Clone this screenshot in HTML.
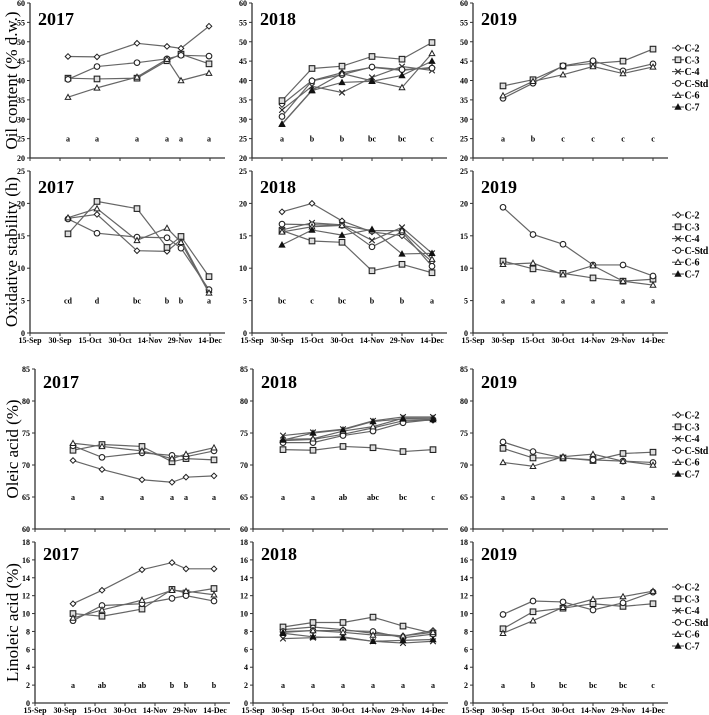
<!DOCTYPE html>
<html><head><meta charset="utf-8">
<style>
html,body{margin:0;padding:0;background:#fff;}
svg{display:block;font-family:"Liberation Serif",serif;}
.tk{font-size:8px;font-weight:bold;}
.yr{font-size:18px;font-weight:bold;}
.lt{font-size:8px;font-weight:bold;}
.lg{font-size:10px;font-weight:bold;letter-spacing:-0.3px;}
.yt{font-size:17px;}
</style></head>
<body>
<svg id="chart" width="709" height="715" viewBox="0 0 709 715"></svg>
<script>
// x positions: days after 15-Sep
const days2017 = [19, 33.5, 53.5, 68.5, 75.5, 89.5];
const days2018 = [15, 30, 45, 60, 75, 90];
const dateLabels = ["15-Sep","30-Sep","15-Oct","30-Oct","14-Nov","29-Nov","14-Dec"];
const seriesNames = ["C-2","C-3","C-4","C-Std","C-6","C-7"];

// Oil content
const oil2017_C2 = [46.2,46.1,49.6,48.8,48.3,54.0];
const oil2017_C3 = [40.6,40.4,40.6,45.1,46.8,44.3];
const oil2017_CStd = [40.3,43.6,44.6,45.6,46.5,46.3];
const oil2017_C6 = [35.7,38.1,40.9,45.5,40.0,41.9];
const oil2018_C2 = [33.8,40.0,42.0,43.4,42.6,43.4];
const oil2018_C3 = [34.8,43.1,43.7,46.2,45.5,49.8];
const oil2018_C4 = [32.4,38.5,36.9,40.8,43.6,42.6];
const oil2018_CStd = [30.7,39.9,41.5,43.5,42.8,43.2];
const oil2018_C6 = [28.8,37.5,41.8,39.9,38.2,47.0];
const oil2018_C7 = [28.7,37.4,39.5,39.8,41.3,45.0];
const oil2019_C3 = [38.6,40.2,43.7,44.4,45.0,48.1];
const oil2019_CStd = [35.4,39.3,43.8,45.1,42.5,44.3];
const oil2019_C6 = [36.1,39.8,41.5,43.6,41.8,43.5];
// Oxidative stability
const ox2017_C2 = [17.7,18.3,12.7,12.6,14.4,6.3];
const ox2017_C3 = [15.3,20.3,19.2,13.2,14.9,8.7];
const ox2017_CStd = [17.6,15.4,14.8,14.7,13.1,6.7];
const ox2017_C6 = [17.8,19.2,14.3,16.2,14.0,6.2];
const ox2018_C2 = [18.7,20.0,17.3,15.6,15.0,11.0];
const ox2018_C3 = [15.8,14.2,14.0,9.6,10.6,9.3];
const ox2018_C4 = [15.9,17.0,16.7,14.3,16.3,12.3];
const ox2018_CStd = [16.8,16.7,16.6,13.3,15.6,10.3];
const ox2018_C6 = [15.6,16.4,16.6,15.8,15.8,11.4];
const ox2018_C7 = [13.6,15.9,15.1,16.0,12.2,12.3];
const ox2019_C3 = [11.1,9.9,9.2,8.5,8.0,8.3];
const ox2019_CStd = [19.4,15.2,13.7,10.5,10.5,8.8];
const ox2019_C6 = [10.6,10.8,9.0,10.4,8.0,7.4];
// Oleic acid
const ol2017_C2 = [70.7,69.3,67.7,67.3,68.1,68.3];
const ol2017_C3 = [72.3,73.2,72.9,70.5,71.0,70.8];
const ol2017_CStd = [73.0,71.2,71.9,71.5,71.3,72.2];
const ol2017_C6 = [73.4,72.9,72.2,71.0,71.7,72.7];
const ol2018_C2 = [73.8,74.0,74.8,75.8,76.9,77.0];
const ol2018_C3 = [72.4,72.3,72.9,72.7,72.1,72.4];
const ol2018_C4 = [74.6,75.1,75.6,76.9,77.5,77.5];
const ol2018_CStd = [73.5,73.5,74.6,75.3,76.6,77.1];
const ol2018_C6 = [74.0,74.1,75.3,76.0,77.3,77.3];
const ol2018_C7 = [73.9,75.0,75.5,76.8,77.2,77.1];
const ol2019_C3 = [72.6,71.1,71.1,70.7,71.8,72.0];
const ol2019_CStd = [73.6,72.1,71.1,70.8,70.6,70.4];
const ol2019_C6 = [70.4,69.8,71.3,71.7,70.6,70.0];
// Linoleic acid
const li2017_C2 = [11.1,12.6,14.9,15.7,15.0,15.0];
const li2017_C3 = [10.0,9.7,10.5,12.7,12.3,12.8];
const li2017_CStd = [9.2,10.9,11.1,11.7,12.0,11.4];
const li2017_C6 = [9.5,10.4,11.5,12.6,12.5,12.1];
const li2018_C2 = [8.2,8.5,8.2,7.8,7.5,8.1];
const li2018_C3 = [8.5,9.0,9.0,9.6,8.6,7.8];
const li2018_C4 = [7.2,7.3,7.4,6.9,6.7,6.9];
const li2018_CStd = [8.0,8.1,8.1,8.0,7.3,7.7];
const li2018_C6 = [7.9,8.1,7.9,7.6,7.5,7.9];
const li2018_C7 = [7.8,7.4,7.3,6.9,7.0,7.1];
const li2019_C3 = [8.3,10.2,10.6,11.1,10.8,11.1];
const li2019_CStd = [9.9,11.4,11.3,10.4,11.2,12.4];
const li2019_C6 = [7.8,9.2,10.7,11.6,11.9,12.5];
// significance letters
const letOil2017 = ["a","a","a","a","a","a"];
const letOil2018 = ["a","b","b","bc","bc","c"];
const letOil2019 = ["a","b","c","c","c","c"];
const letOx2017 = ["cd","d","bc","b","b","a"];
const letOx2018 = ["bc","c","bc","b","b","a"];
const letOx2019 = ["a","a","a","a","a","a"];
const letOl2017 = ["a","a","a","a","a","a"];
const letOl2018 = ["a","a","ab","abc","bc","c"];
const letOl2019 = ["a","a","a","a","a","a"];
const letLi2017 = ["a","ab","ab","b","b","b"];
const letLi2018 = ["a","a","a","a","a","a"];
const letLi2019 = ["a","b","bc","bc","bc","c"];

const NS="http://www.w3.org/2000/svg";
const svg=document.getElementById('chart');
function mk(tag,attrs,parent){const e=document.createElementNS(NS,tag);for(const k in attrs)e.setAttribute(k,attrs[k]);(parent||svg).appendChild(e);return e;}

const rows=[
 {key:'oil',title:'Oil content (% d.w.)',yMin:20,yMax:60,step:5,top:3,bot:158,cols:[30,252,473],dates:false,letVal:25,yrOff:22,legendY:48,
  series:[[oil2017_C2,oil2017_C3,null,oil2017_CStd,oil2017_C6,null],[oil2018_C2,oil2018_C3,oil2018_C4,oil2018_CStd,oil2018_C6,oil2018_C7],[null,oil2019_C3,null,oil2019_CStd,oil2019_C6,null]],
  lets:[letOil2017,letOil2018,letOil2019]},
 {key:'ox',title:'Oxidative stability (h)',yMin:0,yMax:25,step:5,top:171,bot:333,cols:[30,252,473],dates:true,letVal:5,yrOff:22,legendY:215,
  series:[[ox2017_C2,ox2017_C3,null,ox2017_CStd,ox2017_C6,null],[ox2018_C2,ox2018_C3,ox2018_C4,ox2018_CStd,ox2018_C6,ox2018_C7],[null,ox2019_C3,null,ox2019_CStd,ox2019_C6,null]],
  lets:[letOx2017,letOx2018,letOx2019]},
 {key:'oleic',title:'Oleic acid (%)',yMin:60,yMax:85,step:5,top:369,bot:529,cols:[35,253,473],dates:false,letVal:65,yrOff:19,legendY:415,
  series:[[ol2017_C2,ol2017_C3,null,ol2017_CStd,ol2017_C6,null],[ol2018_C2,ol2018_C3,ol2018_C4,ol2018_CStd,ol2018_C6,ol2018_C7],[null,ol2019_C3,null,ol2019_CStd,ol2019_C6,null]],
  lets:[letOl2017,letOl2018,letOl2019]},
 {key:'linoleic',title:'Linoleic acid (%)',yMin:0,yMax:18,step:2,top:542,bot:703,cols:[35,253,473],dates:true,letVal:2,yrOff:18,legendY:587,
  series:[[li2017_C2,li2017_C3,null,li2017_CStd,li2017_C6,null],[li2018_C2,li2018_C3,li2018_C4,li2018_CStd,li2018_C6,li2018_C7],[null,li2019_C3,null,li2019_CStd,li2019_C6,null]],
  lets:[letLi2017,letLi2018,letLi2019]}
];
const years=['2017','2018','2019'];
const PXD=2, AXLEN=195;

function marker(g,type,x,y){
  const s=2.8;
  let e;
  if(type===0) e=mk('polygon',{points:`${x},${y-s} ${x+s},${y} ${x},${y+s} ${x-s},${y}`,fill:'#fff',stroke:'#222','stroke-width':1},g);
  else if(type===1) e=mk('rect',{x:x-s,y:y-s,width:2*s,height:2*s,fill:'#ddd',stroke:'#222','stroke-width':1.1},g);
  else if(type===2){e=mk('path',{d:`M${x-s},${y-s}L${x+s},${y+s}M${x-s},${y+s}L${x+s},${y-s}`,stroke:'#222','stroke-width':1.1,fill:'none'},g);}
  else if(type===3) e=mk('circle',{cx:x,cy:y,r:s,fill:'#fff',stroke:'#222','stroke-width':1.1},g);
  else if(type===4) e=mk('polygon',{points:`${x},${y-s} ${x+s},${y+s*0.8} ${x-s},${y+s*0.8}`,fill:'#fff',stroke:'#222','stroke-width':1},g);
  else e=mk('polygon',{points:`${x},${y-s} ${x+s},${y+s*0.8} ${x-s},${y+s*0.8}`,fill:'#111',stroke:'#111','stroke-width':1},g);
  return e;
}

rows.forEach((r,ri)=>{
  const yScale=v=>r.bot-(v-r.yMin)/(r.yMax-r.yMin)*(r.bot-r.top);
  const tx0=ri<2?17:18, ty0=(r.top+r.bot)/2;
  const t=mk('text',{class:'yt','text-anchor':'middle',transform:'translate('+tx0+','+ty0+') rotate(-90)'});
  t.textContent=r.title;
  
  
  r.cols.forEach((x0,ci)=>{
    const xScale=d=>x0+d*PXD;
    const g=mk('g',{});
    
    
    mk('line',{x1:x0,y1:r.top,x2:x0,y2:r.bot,stroke:'#333','stroke-width':1.3},g);
    mk('line',{x1:x0,y1:r.bot,x2:x0+AXLEN,y2:r.bot,stroke:'#333','stroke-width':1.3},g);
    for(let v=r.yMin;v<=r.yMax+1e-9;v+=r.step){
      const y=yScale(v);
      mk('line',{x1:x0-3,y1:y,x2:x0,y2:y,stroke:'#333','stroke-width':1},g);
      const tl=mk('text',{class:'tk',x:x0-5,y:y+3,'text-anchor':'end'},g);tl.textContent=v;
    }
    for(let k=0;k<=6;k++){
      const x=xScale(k*15);
      mk('line',{x1:x,y1:r.bot,x2:x,y2:r.bot+3,stroke:'#333','stroke-width':1},g);
      if(r.dates){const dl=mk('text',{class:'tk',x:x,y:r.bot+10,'text-anchor':'middle'},g);dl.textContent=dateLabels[k];}
    }
    const yt=mk('text',{class:'yr',x:x0+8,y:r.top+r.yrOff},g);yt.textContent=years[ci];
    
    
    const dd=ci===0?days2017:days2018;
    r.lets[ci].forEach((L,i)=>{const lt=mk('text',{class:'lt',x:xScale(dd[i]),y:yScale(r.letVal)+3,'text-anchor':'middle'},g);lt.textContent=L;});
    r.series[ci].forEach((vals,si)=>{
      if(!vals)return;
      const sg=mk('g',{},g);
      
      
      const pts=vals.map((v,i)=>xScale(dd[i])+','+yScale(v)).join(' ');
      mk('polyline',{points:pts,fill:'none',stroke:'#666','stroke-width':1.2},sg);
      vals.forEach((v,i)=>{
        const m=marker(sg,si,xScale(dd[i]),yScale(v));
        
        
      });
    });
  });
  const lg=mk('g',{});
  
  
  seriesNames.forEach((n,si)=>{
    const y=r.legendY+si*11.8;
    const eg=mk('g',{},lg);
    
    
    mk('line',{x1:672,y1:y,x2:684,y2:y,stroke:'#444','stroke-width':1},eg);
    marker(eg,si,678,y);
    const tx=mk('text',{class:'lg',x:684.5,y:y+3.5},eg);tx.textContent=n;
  });
});
</script>
</body></html>
